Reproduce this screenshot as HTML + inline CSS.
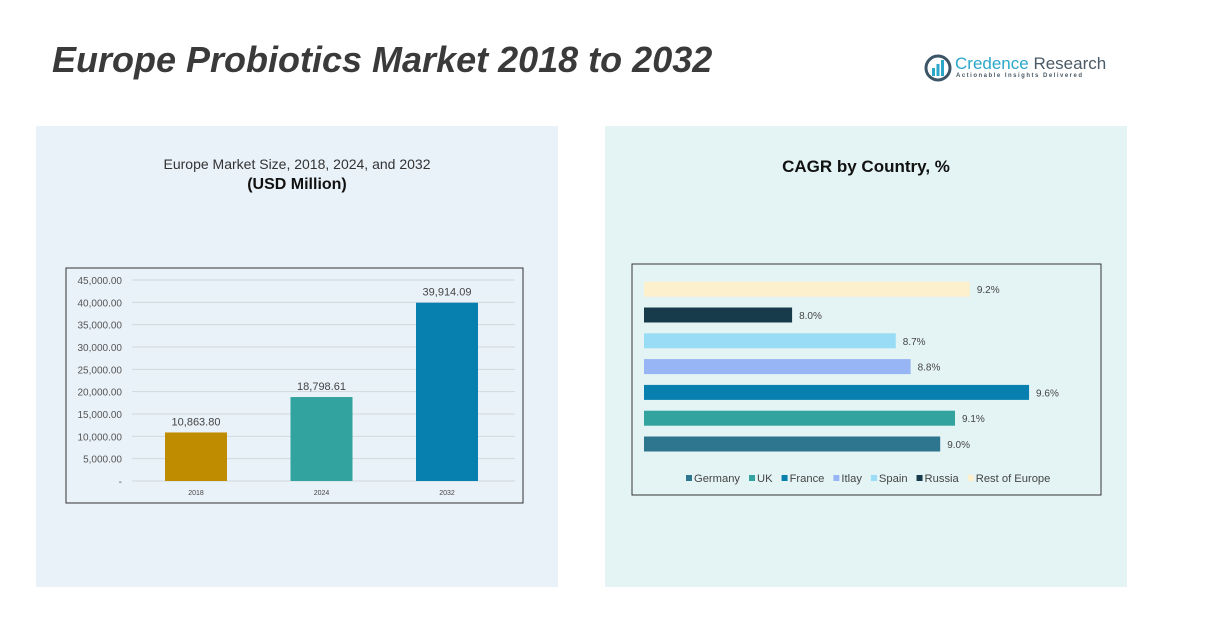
<!DOCTYPE html>
<html><head><meta charset="utf-8"><style>
body{margin:0;width:1211px;height:635px;background:#fff;position:relative;overflow:hidden;font-family:"Liberation Sans",sans-serif;color:#333}
.abs{position:absolute}
</style></head><body>
<div class="abs" style="left:52px;top:39px;font-size:36px;font-weight:bold;font-style:italic;color:#3a3a3a;">Europe Probiotics Market 2018 to 2032</div>
<div class="abs" style="left:924px;top:54px;">
<svg width="28" height="28"><circle cx="14" cy="14" r="12" fill="none" stroke="#3b5566" stroke-width="3"/><rect x="8" y="14" width="3" height="8" fill="#2aa7c9"/><rect x="12.5" y="10" width="3" height="12" fill="#2aa7c9"/><rect x="17" y="6" width="3" height="16" fill="#2aa7c9"/></svg>
<span class="abs" style="left:31px;top:0px;font-size:17px;white-space:nowrap;"><span style="color:#2aa7c9">Credence</span> <span style="color:#4a5a66">Research</span></span>
<span class="abs" style="left:32px;top:19px;font-size:6px;letter-spacing:1.5px;white-space:nowrap;color:#4a5a66;font-weight:bold">Actionable Insights Delivered</span>
</div>
<div class="abs" style="left:36px;top:126px;width:522px;height:461px;background:#eaf2f9"></div>
<div class="abs" style="left:605px;top:126px;width:522px;height:461px;background:#e4f4f4"></div>
<div class="abs" style="left:36px;top:156px;width:522px;text-align:center;font-size:14px;">Europe Market Size, 2018, 2024, and 2032</div>
<div class="abs" style="left:36px;top:176px;width:522px;text-align:center;font-size:16px;font-weight:bold;color:#111">(USD Million)</div>
<div class="abs" style="left:605px;top:157px;width:522px;text-align:center;font-size:17px;font-weight:bold;color:#111">CAGR by Country, %</div>
<svg class="abs" id="bar" style="left:0;top:0" width="1211" height="635"></svg>
<script>
const years=["2018","2024","2032"];
const sizes=[10863.80,18798.61,39914.09];
const sizeLabels=["10,863.80","18,798.61","39,914.09"];
const yTicks=[0,5000,10000,15000,20000,25000,30000,35000,40000,45000];
const barColors=["#bf8c00","#33a3a0","#0780b0"];
const countries=["Germany","UK","France","Itlay","Spain","Russia","Rest of Europe"];
const cagr=[9.0,9.1,9.6,8.8,8.7,8.0,9.2];
const cColors=["#2e7590","#33a3a0","#0780b0","#97b4f5","#98dcf5","#173b4a","#fdf0cc"];
const NS="http://www.w3.org/2000/svg";
const svg=document.getElementById('bar');
function mk(t,a,txt){const e=document.createElementNS(NS,t);for(const k in a)e.setAttribute(k,a[k]);if(txt!==undefined)e.textContent=txt;svg.appendChild(e);return e;}
let f=mk('rect',{x:66,y:268,width:457,height:235,fill:'none',stroke:'#333','stroke-width':1});

const y0=481,y1=280,yMax=45000;
const ys=v=>y0-(v/yMax)*(y0-y1);
const xs=i=>196+i*125.5;
const fmt=v=>v===0?'-':v.toLocaleString('en-US',{minimumFractionDigits:2});
yTicks.forEach(v=>{
 let l=mk('line',{x1:132,x2:515,y1:ys(v),y2:ys(v),stroke:'#d0d8dd','stroke-width':1});
 
 let t=mk('text',{x:122,y:ys(v)+4,'text-anchor':'end','font-size':10,fill:'#555'},fmt(v));
 
});
years.forEach((y,i)=>{
 let r=mk('rect',{x:xs(i)-31,y:ys(sizes[i]),width:62,height:y0-ys(sizes[i]),fill:barColors[i]});
 
 let t=mk('text',{x:xs(i),y:ys(sizes[i])-7,'text-anchor':'middle','font-size':11,fill:'#444'},sizeLabels[i]);
 
 let x=mk('text',{x:xs(i),y:495,'text-anchor':'middle','font-size':7,fill:'#444'},y);
 
});
let f2=mk('rect',{x:632,y:264,width:469,height:231,fill:'none',stroke:'#333','stroke-width':1});

const xMin=7.0,x0=644,pxPer=148.1;
const xc=v=>x0+(v-xMin)*pxPer;
const yc=i=>444-i*25.8;
countries.forEach((c,i)=>{
 let r=mk('rect',{x:x0,y:yc(i)-7.5,width:xc(cagr[i])-x0,height:15,fill:cColors[i]});
 
 let t=mk('text',{x:xc(cagr[i])+7,y:yc(i)+4,'font-size':10,fill:'#444'},cagr[i].toFixed(1)+'%');
 
});
let lx=686;
countries.forEach((c,i)=>{
 let s=mk('rect',{x:lx,y:475,width:6,height:6,fill:cColors[i]});
 
 let t=mk('text',{x:lx+8,y:482,'font-size':11.2,fill:'#444'},c);
 
 lx+=8+t.getComputedTextLength()+9;
});
</script>
</body></html>
